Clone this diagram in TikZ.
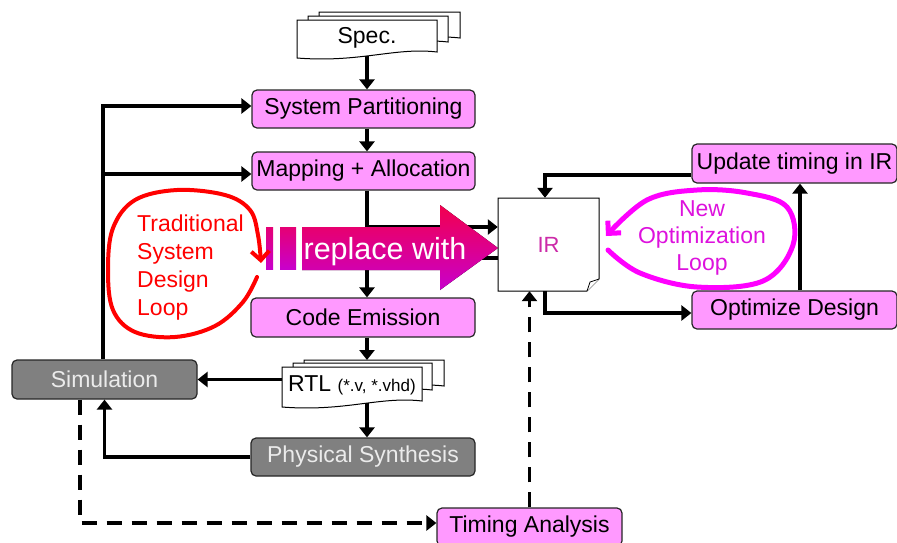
\documentclass[tikz,border=0pt]{standalone}
\usepackage{fontspec}
\setmainfont{Liberation Sans}
\usetikzlibrary{arrows.meta,calc}

\definecolor{boxpink}{HTML}{FF99FF}
\definecolor{boxgray}{HTML}{808080}
\definecolor{loopmag}{HTML}{FF00FF}
\definecolor{textmag}{HTML}{DD11DD}
\definecolor{irmag}{HTML}{CC2AA8}
\definecolor{arrtop}{HTML}{F2004E}
\definecolor{arrbot}{HTML}{C800CC}

\tikzset{
  pinkbox/.style={draw=black!85, line width=1.2pt, fill=boxpink, rounded corners=5pt,
    inner sep=0pt, font=\fontsize{23}{27}\selectfont},
  graybox/.style={pinkbox, fill=boxgray, text=white!92!black},
  flow/.style={line width=3.5pt, -{Triangle[length=10pt,width=15pt]}},
  plainline/.style={line width=3.5pt},
  dashflow/.style={flow, dash pattern=on 15pt off 10pt},
  sheet/.style={draw=black, line width=1pt, fill=white},
  doclabel/.style={inner sep=0pt, font=\fontsize{23}{27}\selectfont},
}

% a paper sheet with a wavy lower edge: x1 y1 x2 y2
\newcommand\docsheet[4]{%
  \draw[sheet] (#1,#2) -- (#3,#2) -- (#3,{#4-6})
    .. controls ({#3-0.3*(#3-#1)},{#4-11}) and ({#1+0.45*(#3-#1)},{#4+5}) .. (#1,#4) -- cycle;}

\begin{document}
\begin{tikzpicture}[x=1pt,y=-1pt]
\useasboundingbox (0,0) rectangle (897,542);

% stacked documents
\docsheet{319}{12}{460}{44}
\docsheet{308}{16}{448}{48}
\docsheet{297}{20}{437}{58}
\docsheet{304}{360}{444}{392}
\docsheet{293}{363}{432}{396}
\docsheet{282}{367}{422}{407}

% IR page with a curled corner
\draw[sheet] (498,198) -- (599,198) -- (599,279) -- (587,291) -- (498,291) -- cycle;
\draw[line width=0.8pt, fill=white] (587,291) -- (590,282) -- (599,279);

% nodes
\node[doclabel, minimum width=140pt, minimum height=36pt] (spec) at (367,38) {Spec.};
\node[doclabel, minimum width=140pt, minimum height=36pt] (rtl) at (352,385)
  {RTL {\fontsize{17}{20}\selectfont(*.v, *.vhd)}};
\node[pinkbox, minimum width=223pt, minimum height=38pt] (sp) at (363.5,109) {System Partitioning};
\node[pinkbox, minimum width=223pt, minimum height=38pt] (ma) at (363.5,171) {Mapping + Allocation};
\node[pinkbox, minimum width=224pt, minimum height=39pt] (ce) at (363,317.5) {Code Emission};
\node[graybox, minimum width=224pt, minimum height=38pt] (ps) at (363,457) {Physical Synthesis};
\node[graybox, minimum width=185pt, minimum height=39pt] (sim) at (104.5,379.5) {Simulation};
\node[pinkbox, minimum width=185pt, minimum height=38pt] (ta) at (529.5,527) {Timing Analysis};
\node[pinkbox, minimum width=205pt, minimum height=39pt] (ut) at (794.5,163.5) {Update timing in IR};
\node[pinkbox, minimum width=205pt, minimum height=38pt] (od) at (794.5,310) {Optimize Design};
\node[inner sep=0pt, minimum width=101pt, minimum height=93pt, text=irmag,
      font=\fontsize{22}{26}\selectfont] (ir) at (548.5,244.5) {IR};

% main flow
\coordinate (spine) at (367,0);
\coordinate (rtltop) at (367,360);
\coordinate (tapA) at (367,227);
\coordinate (tapB) at (367,258);
\draw[flow] (spec.south) -- (spine |- sp.north);
\draw[flow] (spine |- sp.south) -- (spine |- ma.north);
\draw[flow] (spine |- ma.south) -- (spine |- ce.north);
\draw[flow] (tapA) -- (tapA -| ir.west);
\draw[plainline] (tapB) -- (tapB -| ir.west);
\draw[flow] (spine |- ce.south) -- (rtltop);
\draw[flow] (spine |- rtl.south) -- (spine |- ps.north);
\draw[flow] (rtl.west |- sim.east) -- (sim.east);
\draw[flow] (ps.west) -| (sim.south);

% feedback from simulation
\coordinate (fbtop) at (103,106);
\coordinate (fbmid) at (103,174);
\draw[flow] (fbtop |- sim.north) |- (fbtop -| sp.west);
\draw[flow] (fbmid) -- (fbmid -| ma.west);

% timing path
\coordinate (dl) at (80,523);
\draw[dashflow] (dl |- sim.south) |- (dl -| ta.west);
\draw[dashflow] (ta.north) -- (ta.north |- ir.south);

% optimisation loop on the right
\draw[flow] ([yshift=-11.5pt]ut.west) -| ([xshift=-3.5pt]ir.north);
\draw[flow] ([xshift=-3.5pt]ir.south) |- ([yshift=-3pt]od.west);
\draw[flow] ([xshift=5.5pt]od.north) -- ([xshift=5.5pt]ut.south);

% big "replace with" arrow
\fill[top color=arrtop, bottom color=arrbot]
  (302,227) -- (440,227) -- (440,205) -- (498,248) -- (440,290) -- (440,270) -- (302,270) -- cycle;
\fill[top color=arrtop!70!arrbot, bottom color=arrbot] (266,227) rectangle (273,269);
\fill[top color=arrtop!70!arrbot, bottom color=arrbot] (280,227) rectangle (296,269);
\node[anchor=base, inner sep=0pt, text=white, font=\fontsize{30.5}{34}\selectfont] (rw) at (385,259) {replace with};

% traditional loop
\draw[red, line width=4pt, line cap=round, -{Straight Barb[length=9pt,width=18pt]}]
  plot[smooth, tension=0.6] coordinates {(257,277) (243,302) (215,326) (175,337) (135,332)
  (113,310) (108,270) (113,228) (135,200) (177,190) (225,195) (250,210) (258,235) (261,263)};
\node[anchor=west, align=left, inner sep=0pt, text=red, font=\fontsize{23}{28.3}\selectfont]
  (tsdl) at (137,267.5) {Traditional\\System\\Design\\Loop};

% new optimization loop
\draw[loopmag, line width=5pt, line cap=round, -{Straight Barb[length=9pt,width=18pt]}]
  plot[smooth, tension=0.6] coordinates {(608,250) (640,273) (697,287) (763,281) (793,245)
  (787,207) (747,193) (697,190) (647,200) (606,236)};
\node[align=center, inner sep=0pt, text=textmag, font=\fontsize{23}{27}\selectfont]
  (nol) at (702,238) {New\\Optimization\\Loop};
\end{tikzpicture}
\end{document}
